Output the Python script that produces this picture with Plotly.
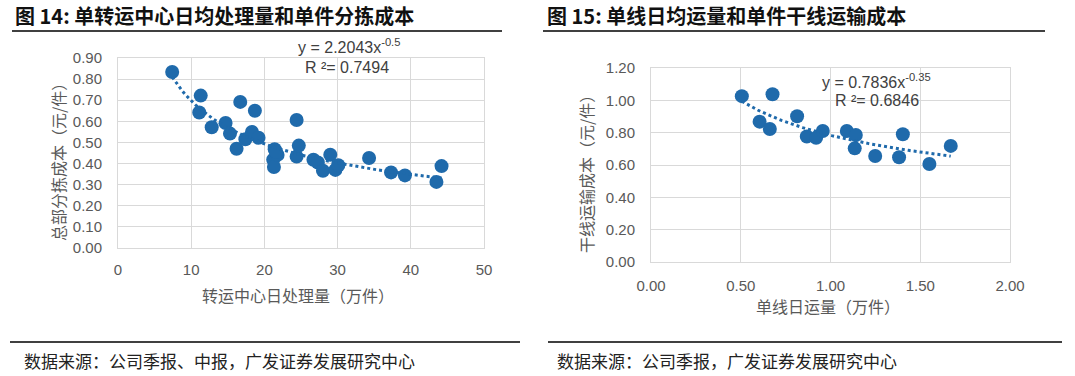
import numpy as np
import plotly.graph_objects as go

# ---------------- data ----------------
# Figure 14: hub daily volume (10k parcels) vs sorting cost per parcel (yuan)
hub_volume = [7.4, 11.3, 11.1, 12.8, 14.7, 15.3, 16.2, 16.7, 17.4, 18.3, 18.7, 19.2,
              21.4, 21.2, 21.3, 21.8, 21.6, 24.4, 24.4, 24.7, 26.7, 27.3, 28.0, 29.0,
              29.7, 30.1, 34.3, 37.3, 39.2, 43.5, 44.2]
sort_cost = [0.834, 0.722, 0.642, 0.572, 0.592, 0.542, 0.470, 0.692, 0.515, 0.550, 0.650, 0.522,
             0.468, 0.418, 0.384, 0.441, 0.455, 0.606, 0.433, 0.485, 0.418, 0.405, 0.366, 0.442,
             0.370, 0.392, 0.426, 0.358, 0.344, 0.313, 0.388]
fit14_coef, fit14_exp = 2.2043, -0.5

# Figure 15: single-line daily volume (10k parcels) vs trunk transport cost per parcel (yuan)
line_volume = [0.506, 0.677, 0.605, 0.662, 0.814, 0.868, 0.920, 0.957, 1.091, 1.141,
               1.135, 1.249, 1.382, 1.403, 1.551, 1.670]
trunk_cost = [1.026, 1.038, 0.868, 0.823, 0.902, 0.776, 0.768, 0.810, 0.810, 0.786,
              0.703, 0.656, 0.648, 0.790, 0.606, 0.718]
fit15_coef, fit15_exp = 0.7836, -0.35

x14_ticks = [0, 10, 20, 30, 40, 50]
y14_ticks = [0.0, 0.1, 0.2, 0.3, 0.4, 0.5, 0.6, 0.7, 0.8, 0.9]
x15_ticks = [0.0, 0.5, 1.0, 1.5, 2.0]
y15_ticks = [0.0, 0.2, 0.4, 0.6, 0.8, 1.0, 1.2]

title14 = "图 14: 单转运中心日均处理量和单件分拣成本"
title15 = "图 15: 单线日均运量和单件干线运输成本"
source14 = "数据来源：公司季报、中报，广发证券发展研究中心"
source15 = "数据来源：公司季报，广发证券发展研究中心"

# ---------------- style ----------------
W, H = 1075, 376
BLUE = "#1f6aab"
GRID = "#d9d9d9"
TICK = "#595959"
CJK = "Noto Sans CJK SC"
NUM = "Liberation Sans, Arial"

fig = go.Figure()

# scatter points
fig.add_trace(go.Scatter(x=hub_volume, y=sort_cost, mode="markers",
                         marker=dict(size=14, color=BLUE), xaxis="x", yaxis="y",
                         showlegend=False, hoverinfo="x+y"))
fig.add_trace(go.Scatter(x=line_volume, y=trunk_cost, mode="markers",
                         marker=dict(size=14, color=BLUE), xaxis="x2", yaxis="y2",
                         showlegend=False, hoverinfo="x+y"))

# power trendlines from the displayed equations
t14 = np.linspace(min(hub_volume), max(hub_volume), 80)
fig.add_trace(go.Scatter(x=t14, y=fit14_coef * t14 ** fit14_exp, mode="lines",
                         line=dict(color=BLUE, width=3, dash="dot"),
                         xaxis="x", yaxis="y", showlegend=False, hoverinfo="skip"))
t15 = np.linspace(min(line_volume), max(line_volume), 80)
fig.add_trace(go.Scatter(x=t15, y=fit15_coef * t15 ** fit15_exp, mode="lines",
                         line=dict(color=BLUE, width=3, dash="dot"),
                         xaxis="x2", yaxis="y2", showlegend=False, hoverinfo="skip"))

def px_x(p):
    return p / W

def px_y(p):
    return 1 - p / H

axis_common = dict(showgrid=True, gridcolor=GRID, gridwidth=1, zeroline=False,
                   showline=True, linecolor=GRID, linewidth=1, mirror=True,
                   ticks="", tickfont=dict(family=NUM, size=15, color=TICK),
                   fixedrange=True, automargin=False)

fig.update_layout(
    width=W, height=H,
    margin=dict(l=0, r=0, t=0, b=0, autoexpand=False),
    paper_bgcolor="white", plot_bgcolor="white",
    xaxis=dict(domain=[px_x(118), px_x(484)], range=[0, 50], tickvals=x14_ticks,
               ticktext=[str(v) for v in x14_ticks], anchor="y",
               ticklabelstandoff=8, **axis_common),
    yaxis=dict(domain=[px_y(248), px_y(58)], range=[0, 0.9], tickvals=y14_ticks,
               ticktext=[f"{v:.2f}" for v in y14_ticks], anchor="x",
               ticklabelstandoff=12, **axis_common),
    xaxis2=dict(domain=[px_x(651), px_x(1010)], range=[0, 2], tickvals=x15_ticks,
                ticktext=[f"{v:.2f}" for v in x15_ticks], anchor="y2",
                ticklabelstandoff=10, **axis_common),
    yaxis2=dict(domain=[px_y(262), px_y(68)], range=[0, 1.2], tickvals=y15_ticks,
                ticktext=[f"{v:.2f}" for v in y15_ticks], anchor="x2",
                ticklabelstandoff=12, **axis_common),
)

annotations = []

def ann(text, x, y, size, color, family=CJK, textangle=0, xanchor="center", weight=None):
    f = dict(family=family, size=size, color=color)
    if weight:
        f["weight"] = weight
    annotations.append(dict(text=text, x=px_x(x), y=px_y(y), xref="paper", yref="paper",
                            showarrow=False, xanchor=xanchor, yanchor="middle",
                            textangle=textangle, font=f))

# titles
ann(title14, 13, 16, 20, "#111111", xanchor="left", weight="bold")
ann(title15, 545, 16, 20, "#111111", xanchor="left", weight="bold")
# sources
ann(source14, 22, 360, 17, "#222222", xanchor="left")
ann(source15, 555, 360, 17, "#222222", xanchor="left")
# axis titles
ann("转运中心日处理量（万件）", 298, 295, 16, TICK)
ann("总部分拣成本（元/件）", 58, 158, 16, TICK, textangle=-90)
ann("单线日运量（万件）", 828, 306, 16, TICK)
ann("干线运输成本（元/件）", 586, 170, 16, TICK, textangle=-90)
# equations
ann("y = 2.2043x<sup>-0.5</sup>", 349, 46, 16, "#404040", family=NUM)
ann("R ²= 0.7494", 347, 67, 16, "#404040", family=NUM)
ann("y = 0.7836x<sup>-0.35</sup>", 876, 81, 16, "#404040", family=NUM)
ann("R ²= 0.6846", 877, 100, 16, "#404040", family=NUM)

fig.update_layout(annotations=annotations)

# separator lines
shapes = []
for x0, x1, y in [(12, 502, 31), (543, 1045, 31), (10, 520, 342), (548, 1062, 342)]:
    shapes.append(dict(type="line", xref="paper", yref="paper",
                       x0=px_x(x0), x1=px_x(x1), y0=px_y(y), y1=px_y(y),
                       line=dict(color="#000000", width=1.3)))
fig.update_layout(shapes=shapes)

fig.write_html("out.html",
               config={"displayModeBar": False},
               post_script="document.body.style.margin='0';document.body.style.overflow='hidden';")
